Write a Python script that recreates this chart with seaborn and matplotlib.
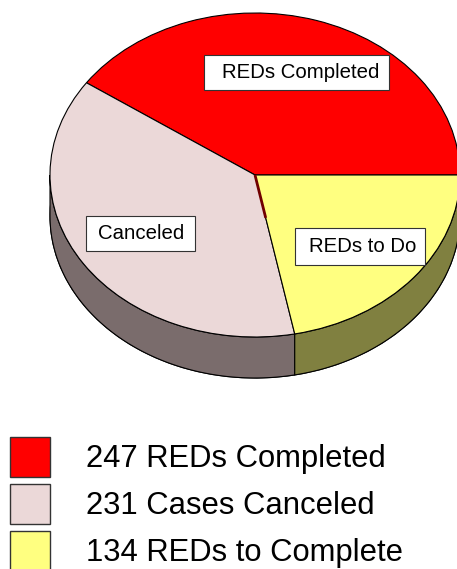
import numpy as np
import matplotlib
matplotlib.use("Agg")
import matplotlib.pyplot as plt
import seaborn as sns

sns.set_theme(style="white")
plt.rcParams['font.family'] = ['Liberation Sans', 'DejaVu Sans']

values = [247, 231, 134]
legend_names = ["REDs Completed", "Cases Canceled", "REDs to Complete"]
slice_labels = ["REDs Completed", "Canceled", "REDs to Do"]
top_colors = ["#FF0000", "#EBD8D8", "#FFFF80"]
side_colors = ["#800000", "#7A6C6C", "#808040"]

W, H = 457, 569
cx, cy, rx, ry, depth = 255, 175, 205, 162, 41

fig = plt.figure(figsize=(W / 100, H / 100), dpi=100, facecolor="white")
ax = fig.add_axes([0, 0, 1, 1])

edges = np.cumsum([0] + values) / sum(values) * 360
d = depth / ry

# side wall: lower pie, then quads between the two rims
ax.pie(values, colors=side_colors, center=(0, -d), radius=1, startangle=0,
       counterclock=True, wedgeprops=dict(edgecolor="black", linewidth=0.8))
for a0, a1, c in zip(edges[:-1], edges[1:], side_colors):
    lo, hi = max(a0, 180), min(a1, 360)
    if hi <= lo:
        continue
    t = np.radians(np.linspace(lo, hi, 80))
    xs = np.r_[np.cos(t), np.cos(t[::-1])]
    ys = np.r_[np.sin(t), np.sin(t[::-1]) - d]
    ax.fill(xs, ys, facecolor=c, edgecolor="black", linewidth=0.8, zorder=2)

wedges, _ = ax.pie(values, colors=top_colors, radius=1, startangle=0, counterclock=True,
                   wedgeprops=dict(edgecolor="black", linewidth=0.8, zorder=3))

# thin dark sliver along the canceled / to-do seam
t = np.radians(edges[2])
ax.plot([0, 0.27 * np.cos(t)], [0, 0.27 * np.sin(t)], color="#700000", lw=2, zorder=4,
        solid_capstyle="butt")

ax.set_aspect("auto")
ax.set_xlim(-cx / rx, (W - cx) / rx)
ax.set_ylim((cy - H) / ry, cy / ry)
ax.axis("off")

def px(x, y):
    return (x - cx) / rx, (cy - y) / ry

boxes = [(204, 55, 389, 90, 301), (86, 216, 195, 251, 141), (295, 228, 425, 265, 363)]
for label, (x0, y0, x1, y1, tx) in zip(slice_labels, boxes):
    a = px(x0, y1)
    b = px(x1, y0)
    ax.add_patch(plt.Rectangle(a, b[0] - a[0], b[1] - a[1], facecolor="white",
                               edgecolor="#333333", linewidth=0.8, zorder=5))
    ax.text(*px(tx, (y0 + y1) / 2), label, fontsize=14.7, color="black",
            ha="center", va="center", zorder=6)

fs = 22.3
handles = [plt.Rectangle((0, 0), 1, 1, facecolor=c, edgecolor="#333333", linewidth=1)
           for c in top_colors]
px_to_em = 72 / 100 / fs
# legend patch height is fontsize * (0.65 * handleheight + 0.245)
handle_h = (40 * px_to_em - 0.245) / 0.65
leg = fig.legend(handles, [f"{v} {n}" for v, n in zip(values, legend_names)],
                 loc="upper left", bbox_to_anchor=(10 / W, 1 - 437 / H),
                 bbox_transform=fig.transFigure, frameon=False, fontsize=fs,
                 labelcolor="black",
                 handlelength=40 * px_to_em, handleheight=handle_h,
                 handletextpad=36 * px_to_em, labelspacing=7 * px_to_em,
                 borderpad=0, borderaxespad=0)

fig.savefig("out.png", dpi=100, facecolor="white")
